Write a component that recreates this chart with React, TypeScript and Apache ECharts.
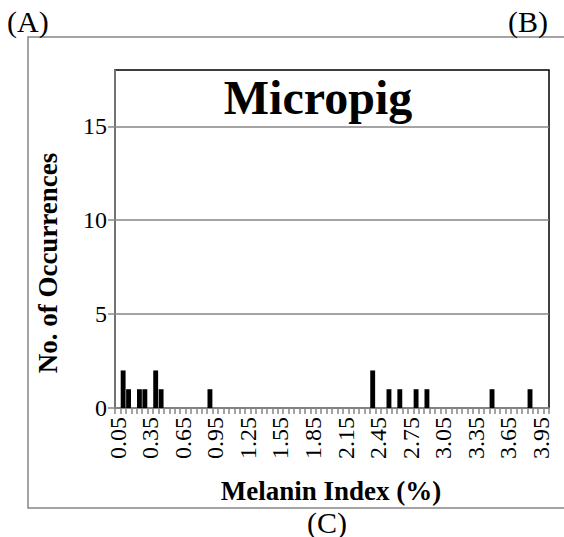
import React, { useEffect, useRef } from "react";
import * as echarts from "echarts";

// Melanin index bins (%), 0.05 wide
const bins: string[] = [
  "0.05", "0.10", "0.15", "0.20", "0.25", "0.30", "0.35", "0.40", "0.45", "0.50",
  "0.55", "0.60", "0.65", "0.70", "0.75", "0.80", "0.85", "0.90", "0.95", "1.00",
  "1.05", "1.10", "1.15", "1.20", "1.25", "1.30", "1.35", "1.40", "1.45", "1.50",
  "1.55", "1.60", "1.65", "1.70", "1.75", "1.80", "1.85", "1.90", "1.95", "2.00",
  "2.05", "2.10", "2.15", "2.20", "2.25", "2.30", "2.35", "2.40", "2.45", "2.50",
  "2.55", "2.60", "2.65", "2.70", "2.75", "2.80", "2.85", "2.90", "2.95", "3.00",
  "3.05", "3.10", "3.15", "3.20", "3.25", "3.30", "3.35", "3.40", "3.45", "3.50",
  "3.55", "3.60", "3.65", "3.70", "3.75", "3.80", "3.85", "3.90", "3.95", "4.00",
];

// Number of occurrences per bin
const occurrences: number[] = [
  0, 2, 1, 0, 1, 1, 0, 2, 1, 0,
  0, 0, 0, 0, 0, 0, 0, 1, 0, 0,
  0, 0, 0, 0, 0, 0, 0, 0, 0, 0,
  0, 0, 0, 0, 0, 0, 0, 0, 0, 0,
  0, 0, 0, 0, 0, 0, 0, 2, 0, 0,
  1, 0, 1, 0, 0, 1, 0, 1, 0, 0,
  0, 0, 0, 0, 0, 0, 0, 0, 0, 1,
  0, 0, 0, 0, 0, 0, 1, 0, 0, 0,
];

const yTicks = { min: 0, max: 18, interval: 5 };

const chartTitle = "Micropig";
const xTitle = "Melanin Index (%)";
const yTitle = "No. of Occurrences";
const panelLabels = { left: "(A)", right: "(B)", bottom: "(C)" };

const SERIF = "Liberation Serif";
const GREY = "#868686";

const textStyle = (text: string, size: number, bold = false, align = "center") => ({
  text,
  fontFamily: SERIF,
  fontSize: size,
  fontWeight: bold ? "bold" : "normal",
  fill: "#000",
  textAlign: align,
  textVerticalAlign: "middle",
});

export default function App() {
  const ref = useRef<HTMLDivElement>(null);

  useEffect(() => {
    if (!ref.current) return;
    const chart = echarts.init(ref.current, null, { renderer: "svg" });
    chart.setOption({
      animation: false,
      backgroundColor: "#ffffff",
      grid: {
        left: 115,
        right: 15,
        top: 70,
        bottom: 129,
        show: true,
        borderColor: "#000000",
        borderWidth: 1.5,
        backgroundColor: "transparent",
      },
      xAxis: {
        type: "category",
        data: bins,
        boundaryGap: true,
        axisLine: { lineStyle: { color: GREY, width: 1.5 } },
        axisTick: {
          show: true,
          interval: 0,
          length: 6,
          lineStyle: { color: GREY, width: 1.5 },
        },
        axisLabel: {
          interval: 5,
          rotate: 90,
          margin: 9,
          color: "#000000",
          fontFamily: SERIF,
          fontSize: 24,
        },
        splitLine: { show: false },
      },
      yAxis: {
        type: "value",
        min: yTicks.min,
        max: yTicks.max,
        interval: yTicks.interval,
        axisLine: { show: true, lineStyle: { color: GREY, width: 1.5 } },
        axisTick: { show: true, length: 7, lineStyle: { color: GREY, width: 1.5 } },
        axisLabel: {
          showMaxLabel: false,
          margin: 8,
          color: "#000000",
          fontFamily: SERIF,
          fontSize: 24,
        },
        splitLine: {
          show: true,
          showMaxLine: false,
          lineStyle: { color: GREY, width: 1.5 },
        },
      },
      series: [
        {
          type: "bar",
          data: occurrences,
          barCategoryGap: "10%",
          itemStyle: { color: "#000000" },
        },
      ],
      graphic: [
        {
          type: "rect",
          shape: { x: 28, y: 37, width: 600, height: 471 },
          style: { fill: "none", stroke: GREY, lineWidth: 1.5 },
          z: -10,
          silent: true,
        },
        { type: "text", x: 7, y: 21, style: textStyle(panelLabels.left, 30, false, "left") },
        { type: "text", x: 548, y: 21, style: textStyle(panelLabels.right, 30, false, "right") },
        { type: "text", x: 327, y: 522, style: textStyle(panelLabels.bottom, 30) },
        { type: "text", x: 318, y: 97, style: textStyle(chartTitle, 48, true) },
        { type: "text", x: 331, y: 491, style: textStyle(xTitle, 27, true) },
        {
          type: "text",
          x: 48,
          y: 263,
          rotation: Math.PI / 2,
          style: textStyle(yTitle, 27, true),
        },
      ],
    });
    return () => chart.dispose();
  }, []);

  return (
    <div
      ref={ref}
      style={{ position: "fixed", left: 0, top: 0, width: 564, height: 537 }}
    />
  );
}
